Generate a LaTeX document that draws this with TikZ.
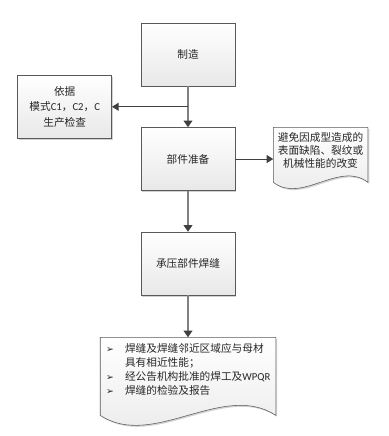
\documentclass[tikz,border=0pt]{standalone}
\usepackage{fontspec}
\setmainfont{Carlito}
\newfontfamily\cjk{Noto Sans CJK SC}
\newfontfamily\lat{Carlito}
\newfontfamily\sym{DejaVu Sans}
\usetikzlibrary{positioning,calc,arrows.meta,shadows,backgrounds}

\newcommand{\bul}{{\sym\fontsize{7pt}{7pt}\selectfont ➢}}
\newcommand{\docoutline}[3]{%
    \path (#1.north east) ++(0,-#2) coordinate (#1-se);
    \path (#1.north west |- #1-se) coordinate (#1-sw);
    \begin{scope}[on background layer]
    \draw[docline] (#1.north west) -- (#1.north east) -- (#1-se)
        .. controls ($(#1-sw)!0.7!(#1-se)+(0,#3)$) and ($(#1-sw)!0.3!(#1-se)+(0,-#3)$) .. (#1-sw) -- cycle;
    \end{scope}
}

\begin{document}
\begin{tikzpicture}[
        node distance=30.75pt,
        font=\cjk\fontsize{8pt}{11pt}\selectfont,
        text=black!85,
        stepbox/.style={rectangle, draw=black!65, minimum width=70.5pt, minimum height=47.25pt, align=center, top color=white, bottom color=black!9, general shadow={fill=black!18, shadow xshift=1.1pt, shadow yshift=-1.1pt}},
        docbox/.style={align=center, inner xsep=0pt, inner ysep=3.5pt},
        docline/.style={draw=black!65, top color=white, bottom color=black!9, general shadow={fill=black!18, shadow xshift=1.1pt, shadow yshift=-1.1pt}},
        flow/.style={draw=black!50, line width=1.5pt, -{Triangle[length=5pt, width=6.5pt, color=black!75]}},
        side/.style={draw=black!75, line width=0.75pt, -{Triangle[length=5pt, width=6pt, color=black!75]}}
    ]

    \useasboundingbox (0,0) rectangle (291.75pt,-327pt);

    \node[stepbox] (make) at (141pt,-40.875pt) {制造};
    \node[stepbox, below=of make] (prep) {部件准备};
    \node[stepbox, below=of prep] (weld) {承压部件焊缝};
    \coordinate (split) at ($(make.south)!0.5!(prep.north)$);
    \node[stepbox, left=57pt of split, font=\cjk\fontsize{8pt}{11.6pt}\selectfont] (basis) {依据\\模式{\lat C1}，{\lat C2}，{\lat C}\\生产检查};

    \node[docbox, right=28.5pt of prep.north east, anchor=north west, minimum width=70.5pt, font=\cjk\fontsize{8pt}{9.75pt}\selectfont] (avoid) {避免因成型造成的\\表面缺陷、裂纹或\\机械性能的改变};
    \node[docbox, below=31.5pt of weld, align=left, text width=123pt, inner xsep=4.125pt, inner ysep=4pt, font=\cjk\fontsize{8pt}{10.5pt}\selectfont] (checks) {%
        \begin{tabular}{@{}p{14.25pt}@{}l@{}}
        \bul & 焊缝及焊缝邻近区域应与母材\\
             & 具有相近性能；\\
        \bul & 经公告机构批准的焊工及{\lat WPQR}\\
        \bul & 焊缝的检验及报告
        \end{tabular}};

    \docoutline{avoid}{41.25pt}{16.5pt}
    \docoutline{checks}{58.5pt}{26pt}

    \draw[flow] (make) -- (prep);
    \draw[flow] (prep) -- (weld);
    \draw[flow] (weld) -- (checks);
    \draw[side] (split) -- (basis);
    \draw[side] (prep) -- (prep -| avoid.west);

\end{tikzpicture}
\end{document}
